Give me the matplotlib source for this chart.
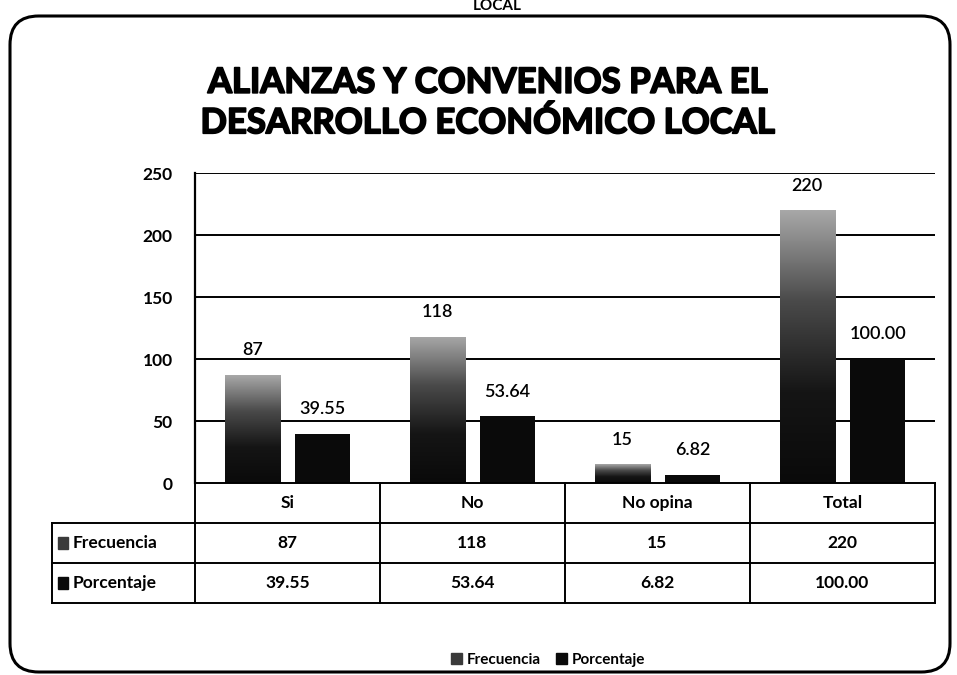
import matplotlib
matplotlib.use("Agg")
import matplotlib.pyplot as plt
import matplotlib.patheffects as pe
import numpy as np
from matplotlib.patches import FancyBboxPatch, Rectangle
from matplotlib.colors import LinearSegmentedColormap

categories = ["Si", "No", "No opina", "Total"]
series_names = ["Frecuencia", "Porcentaje"]
frecuencia = [87, 118, 15, 220]
porcentaje = [39.55, 53.64, 6.82, 100.00]
freq_labels = ["87", "118", "15", "220"]
pct_labels = ["39.55", "53.64", "6.82", "100.00"]
yticks = [0, 50, 100, 150, 200, 250]
title = "ALIANZAS Y CONVENIOS PARA EL\nDESARROLLO ECONÓMICO LOCAL"

FONT = "Lato"
W, H = 957, 675
fig = plt.figure(figsize=(W / 100, H / 100), dpi=100)
fig.patch.set_facecolor("white")

def fx(px):
    return px / W

def fy(py):
    return 1 - py / H

# outer rounded frame
frame = FancyBboxPatch((fx(10), fy(672)), fx(940), (672 - 16) / H,
                       boxstyle="round,pad=0,rounding_size=0.03",
                       transform=fig.transFigure, fill=False, ec="black", lw=2.2,
                       mutation_aspect=W / H)
fig.patches.append(frame)

# partially visible text at very top
fig.text(0.52, fy(6), "LOCAL", ha="center", va="center", fontsize=11,
         fontweight="bold", family=FONT)

# title
fig.text(0.51, fy(103), title, ha="center", va="center", fontsize=25,
         fontweight="bold", family=FONT, linespacing=1.3,
         path_effects=[pe.withStroke(linewidth=1.3, foreground="black")])

# main axes
x0, x1, ytop, ybot = 195, 935, 173, 483
ax = fig.add_axes([fx(x0), fy(ybot), fx(x1 - x0), (ybot - ytop) / H])
ax.set_xlim(-0.5, len(categories) - 0.5)
ax.set_ylim(0, 250)
for s in ["top", "right", "bottom"]:
    ax.spines[s].set_visible(False)
ax.spines["left"].set_linewidth(1.6)
ax.set_xticks([])
ax.set_yticks(yticks)
ax.tick_params(axis="y", length=0, pad=16)
for lab in ax.get_yticklabels():
    lab.set_fontweight("bold")
    lab.set_fontsize(12.5)
    lab.set_family(FONT)
for t in yticks[1:]:
    ax.axhline(t, color="black", lw=1.4, zorder=1)

x = np.arange(len(categories))
bw = 0.30
off = 0.19
cmap = LinearSegmentedColormap.from_list("g", ["#0a0a0a", "#151515", "#4a4a4a", "#a8a8a8"])
grad = np.linspace(0, 1, 256).reshape(-1, 1)

bars_f = ax.bar(x - off, frecuencia, bw, color="#303030", zorder=2)
for b in bars_f:
    xb, yb, wb, hb = b.get_x(), b.get_y(), b.get_width(), b.get_height()
    im = ax.imshow(grad, cmap=cmap, aspect="auto", origin="lower",
                   extent=(xb, xb + wb, yb, yb + hb), zorder=3)
    im.set_clip_path(b)
bars_p = ax.bar(x + off, porcentaje, bw, color="#0a0a0a", zorder=3)

for xi, v, lab in zip(x, frecuencia, freq_labels):
    ax.annotate(lab, (xi - off, v), xytext=(0, 12), textcoords="offset points",
                ha="center", va="bottom", fontsize=13, fontweight="semibold", family=FONT)
for xi, v, lab in zip(x, porcentaje, pct_labels):
    ax.annotate(lab, (xi + off, v), xytext=(0, 12), textcoords="offset points",
                ha="center", va="bottom", fontsize=13, fontweight="semibold", family=FONT)

# data table
tl, tr, ttop, tbot = 52, 935, 483, 603
label_w = (x0 - tl) / ((x1 - x0) / len(categories))
tax = fig.add_axes([fx(tl), fy(tbot), fx(tr - tl), (tbot - ttop) / H])
tax.set_xlim(-0.5 - label_w, len(categories) - 0.5)
tax.set_ylim(0, 3)
tax.axis("off")
lw = 1.4
tax.plot([-0.5, len(categories) - 0.5], [3, 3], color="black", lw=lw, clip_on=False)
for yy in [2, 1, 0]:
    tax.plot([-0.5 - label_w, len(categories) - 0.5], [yy, yy], color="black", lw=lw, clip_on=False)
for xx in np.arange(len(categories) + 1) - 0.5:
    tax.plot([xx, xx], [0, 3], color="black", lw=lw, clip_on=False)
tax.plot([-0.5 - label_w] * 2, [0, 2], color="black", lw=lw, clip_on=False)

tkw = dict(ha="center", va="center", fontsize=12.5, fontweight="bold", family=FONT)
for i, c in enumerate(categories):
    tax.text(i, 2.5, c, **tkw)
    tax.text(i, 1.5, freq_labels[i], **tkw)
    tax.text(i, 0.5, pct_labels[i], **tkw)

key_w = 0.05
for yy, name, col in [(1.5, series_names[0], "#3a3a3a"), (0.5, series_names[1], "#0a0a0a")]:
    kx = -0.5 - label_w + 0.035
    tax.add_patch(Rectangle((kx, yy - 0.14), key_w, 0.28, color=col, clip_on=False))
    tax.text(kx + key_w + 0.025, yy, name, ha="left", va="center", fontsize=12.5,
             fontweight="bold", family=FONT)

# legend
handles = [Rectangle((0, 0), 1, 1, color="#3a3a3a"), Rectangle((0, 0), 1, 1, color="#0a0a0a")]
leg = fig.legend(handles, series_names, loc="center", bbox_to_anchor=(fx(548), fy(660)),
                 ncol=2, frameon=False, handlelength=0.7, handleheight=0.7,
                 handletextpad=0.3, columnspacing=1.0,
                 prop={"family": FONT, "weight": "bold", "size": 11})

fig.savefig("out.png", dpi=100)
